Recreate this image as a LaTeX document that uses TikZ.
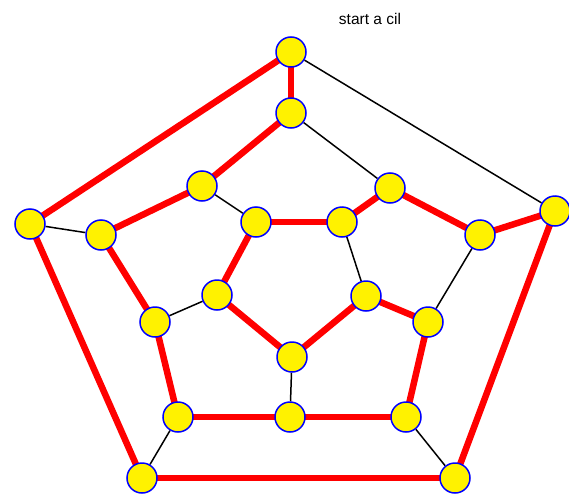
\documentclass[tikz,border=0pt]{standalone}
\usepackage{fontspec}
\setmainfont{Liberation Sans}
\usetikzlibrary{backgrounds}
\begin{document}
\begin{tikzpicture}[x=1pt,y=-1pt,
  vtx/.style={circle,draw=blue,fill=yellow,line width=1.5pt,minimum size=30pt,inner sep=0pt},
  ham/.style={red,line width=6.5pt},
  oth/.style={black,line width=1.5pt}]
\useasboundingbox (0,0) rectangle (569,495);
% outer
\node[vtx] (T) at (291,52) {};
\node[vtx] (L) at (30,224) {};
\node[vtx] (R) at (555,211) {};
\node[vtx] (BL) at (142,478) {};
\node[vtx] (BR) at (455,478) {};
% middle ring
\node[vtx] (m1) at (291,113) {};
\node[vtx] (m2) at (202,186) {};
\node[vtx] (m3) at (101,235) {};
\node[vtx] (m4) at (155,322) {};
\node[vtx] (m5) at (178,417) {};
\node[vtx] (m6) at (290,417) {};
\node[vtx] (m7) at (406,417) {};
\node[vtx] (m8) at (428,322) {};
\node[vtx] (m9) at (480,235) {};
\node[vtx] (m10) at (390,188) {};
% inner
\node[vtx] (i1) at (256,222) {};
\node[vtx] (i2) at (342,222) {};
\node[vtx] (i3) at (366,296) {};
\node[vtx] (i4) at (292,357) {};
\node[vtx] (i5) at (217,295) {};
\node[font=\fontsize{15.5}{18}\selectfont] (lab) at (370,19) {start a cil};
\begin{pgfonlayer}{background}
% Hamiltonian cycle
\draw[ham] (T.center) -- (L.center);
\draw[ham] (L.center) -- (BL.center);
\draw[ham] (BL.center) -- (BR.center);
\draw[ham] (BR.center) -- (R.center);
\draw[ham] (R.center) -- (m9.center);
\draw[ham] (m9.center) -- (m10.center);
\draw[ham] (m10.center) -- (i2.center);
\draw[ham] (i2.center) -- (i1.center);
\draw[ham] (i1.center) -- (i5.center);
\draw[ham] (i5.center) -- (i4.center);
\draw[ham] (i4.center) -- (i3.center);
\draw[ham] (i3.center) -- (m8.center);
\draw[ham] (m8.center) -- (m7.center);
\draw[ham] (m7.center) -- (m6.center);
\draw[ham] (m6.center) -- (m5.center);
\draw[ham] (m5.center) -- (m4.center);
\draw[ham] (m4.center) -- (m3.center);
\draw[ham] (m3.center) -- (m2.center);
\draw[ham] (m2.center) -- (m1.center);
\draw[ham] (m1.center) -- (T.center);
% other edges
\draw[oth] (T) -- (R);
\draw[oth] (L) -- (m3);
\draw[oth] (BL) -- (m5);
\draw[oth] (BR) -- (m7);
\draw[oth] (m8) -- (m9);
\draw[oth] (m10) -- (m1);
\draw[oth] (m2) -- (i1);
\draw[oth] (m4) -- (i5);
\draw[oth] (m6) -- (i4);
\draw[oth] (i2) -- (i3);
\end{pgfonlayer}
\end{tikzpicture}
\end{document}
